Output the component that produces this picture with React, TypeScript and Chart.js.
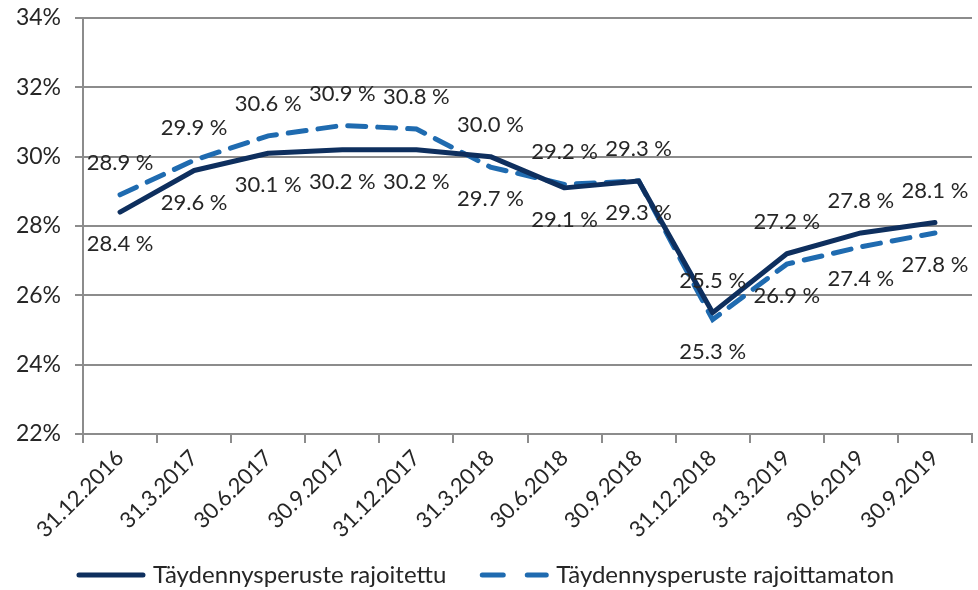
import React, { useEffect, useRef } from "react";
import { Chart, registerables } from "chart.js";

Chart.register(...registerables);

const categories = [
  "31.12.2016", "31.3.2017", "30.6.2017", "30.9.2017", "31.12.2017", "31.3.2018",
  "30.6.2018", "30.9.2018", "31.12.2018", "31.3.2019", "30.6.2019", "30.9.2019",
];
const restricted = [28.4, 29.6, 30.1, 30.2, 30.2, 30.0, 29.1, 29.3, 25.5, 27.2, 27.8, 28.1];
const unrestricted = [28.9, 29.9, 30.6, 30.9, 30.8, 29.7, 29.2, 29.3, 25.3, 26.9, 27.4, 27.8];
// label placement: "a" above point, "b" below point
const restrictedLabelPos = ["b", "b", "b", "b", "b", "a", "b", "b", "a", "a", "a", "a"];
const unrestrictedLabelPos = ["a", "a", "a", "a", "a", "b", "a", "a", "b", "b", "b", "b"];
const seriesNames = ["Täydennysperuste rajoitettu", "Täydennysperuste rajoittamaton"];
const yMin = 22;
const yMax = 34;
const yStep = 2;

const FONT = "Lato, 'Open Sans', sans-serif";
const TEXT = "#262626";
const SOLID = "#0E2F5E";
const DASHED = "#1F6BB0";

const labelPlugin = {
  id: "pointLabels",
  afterDatasetsDraw(chart: any) {
    const ctx = chart.ctx;
    ctx.save();
    ctx.font = `22px ${FONT}`;
    ctx.fillStyle = TEXT;
    ctx.textAlign = "center";
    ctx.textBaseline = "middle";
    chart.data.datasets.forEach((ds: any, di: number) => {
      const meta = chart.getDatasetMeta(di);
      const pos = ds.labelPos as string[];
      meta.data.forEach((pt: any, i: number) => {
        const v = ds.data[i] as number;
        const dy = pos[i] === "a" ? -32 : 32;
        ctx.fillText(v.toFixed(1) + " %", pt.x, pt.y + dy);
      });
    });
    ctx.restore();
  },
};

const legendPlugin = {
  id: "customLegend",
  afterDraw(chart: any) {
    const ctx = chart.ctx;
    ctx.save();
    ctx.font = `24px ${FONT}`;
    ctx.textBaseline = "middle";
    ctx.textAlign = "left";
    const lineLen = 70;
    const gapText = 7;
    const gapItems = 33;
    const w = chart.data.datasets.map((ds: any) => lineLen + gapText + ctx.measureText(ds.label).width);
    const total = w.reduce((a: number, b: number) => a + b, 0) + gapItems * (w.length - 1);
    let x = chart.width / 2 - 4 - total / 2;
    const y = 575;
    chart.data.datasets.forEach((ds: any, i: number) => {
      ctx.beginPath();
      ctx.strokeStyle = ds.borderColor;
      ctx.lineWidth = 5;
      ctx.lineCap = "round";
      ctx.setLineDash(ds.borderDash ? [21, 24] : []);
      ctx.moveTo(x + 3, y);
      ctx.lineTo(x + lineLen - 3, y);
      ctx.stroke();
      ctx.setLineDash([]);
      ctx.fillStyle = TEXT;
      ctx.fillText(ds.label, x + lineLen + gapText, y);
      x += w[i] + gapItems;
    });
    ctx.restore();
  },
};

export default function App() {
  const ref = useRef<HTMLCanvasElement | null>(null);
  useEffect(() => {
    document.body.style.margin = "0";
    const canvas = ref.current!;
    const chart = new Chart(canvas, {
      type: "line",
      data: {
        labels: categories,
        datasets: [
          {
            label: seriesNames[0],
            data: restricted,
            borderColor: SOLID,
            backgroundColor: SOLID,
            borderWidth: 5,
            pointRadius: 0,
            tension: 0,
            borderJoinStyle: "round",
            borderCapStyle: "round",
            labelPos: restrictedLabelPos,
          } as any,
          {
            label: seriesNames[1],
            data: unrestricted,
            borderColor: DASHED,
            backgroundColor: DASHED,
            borderWidth: 5,
            borderDash: [18, 12],
            borderCapStyle: "round",
            pointRadius: 0,
            tension: 0,
            labelPos: unrestrictedLabelPos,
          } as any,
        ],
      },
      options: {
        responsive: false,
        animation: false,
        layout: { padding: { top: 18, right: 6, left: 0, bottom: 0 } },
        plugins: {
          legend: { display: false },
          tooltip: { enabled: false },
        },
        scales: {
          x: {
            offset: true,
            grid: {
              offset: true,
              drawOnChartArea: false,
              color: "#8C8C8C",
              lineWidth: 2,
              tickLength: 9,
            },
            border: { color: "#8C8C8C", width: 2 },
            ticks: {
              minRotation: 45,
              maxRotation: 45,
              color: TEXT,
              font: { family: FONT, size: 22 },
              padding: 2,
            },
            afterFit(scale: any) {
              scale.height = 156;
            },
          },
          y: {
            min: yMin,
            max: yMax,
            grid: {
              color: "#8C8C8C",
              lineWidth: 2,
              tickLength: 8,
            },
            border: { color: "#8C8C8C", width: 2 },
            ticks: {
              stepSize: yStep,
              color: TEXT,
              font: { family: FONT, size: 23 },
              padding: 14,
              callback: (v: any) => v + "%",
            },
            afterFit(scale: any) {
              scale.width = 83;
              scale.paddingTop = 0;
              scale.paddingBottom = 0;
            },
          },
        },
      },
      plugins: [labelPlugin, legendPlugin],
    });
    return () => chart.destroy();
  }, []);
  return <canvas ref={ref} width={978} height={590} style={{ display: "block" }} />;
}
